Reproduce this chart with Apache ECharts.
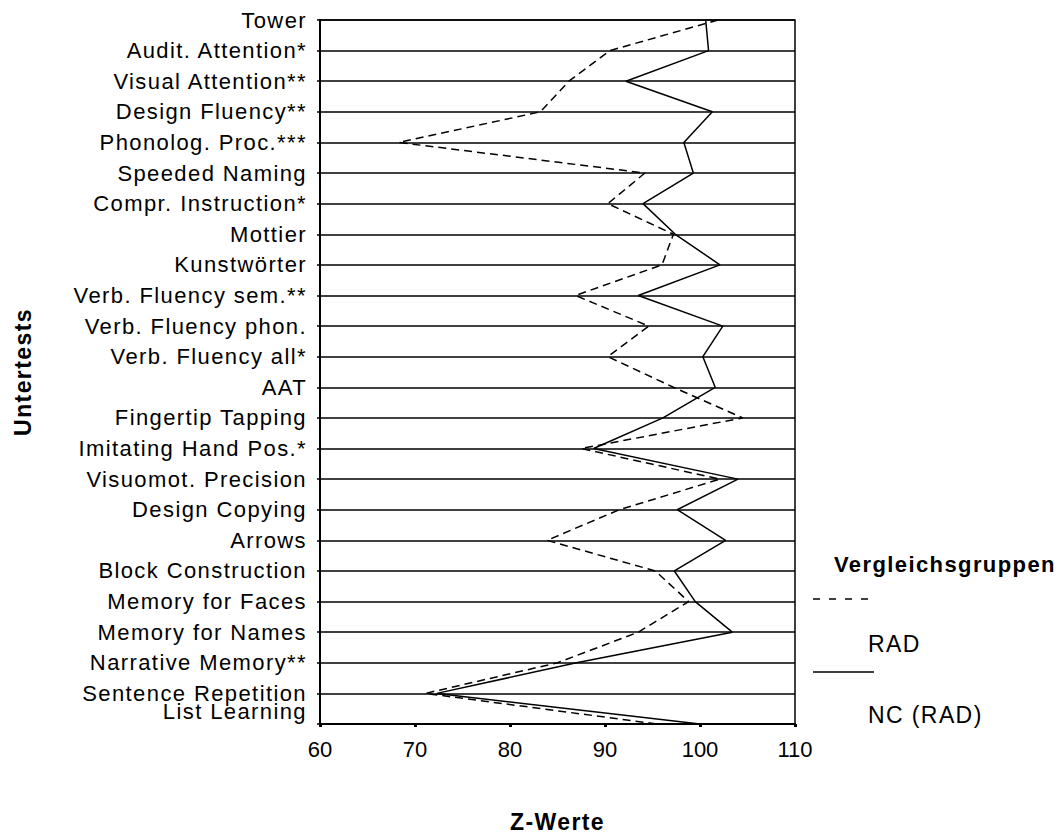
<!DOCTYPE html>
<html>
<head>
<meta charset="utf-8">
<script src="https://cdn.jsdelivr.net/npm/echarts@6/dist/echarts.min.js"></script>
<style>
html,body{margin:0;padding:0;background:#fff;overflow:hidden;}
#chart{width:1061px;height:838px;}
#chart text{letter-spacing:1.4px;}
</style>
</head>
<body>
<div id="chart"></div>
<script>
const categories = [
  'Tower', 'Audit. Attention*', 'Visual Attention**', 'Design Fluency**',
  'Phonolog. Proc.***', 'Speeded Naming', 'Compr. Instruction*', 'Mottier',
  'Kunstwörter', 'Verb. Fluency sem.**', 'Verb. Fluency phon.', 'Verb. Fluency all*',
  'AAT', 'Fingertip Tapping', 'Imitating Hand Pos.*', 'Visuomot. Precision',
  'Design Copying', 'Arrows', 'Block Construction', 'Memory for Faces',
  'Memory for Names', 'Narrative Memory**', 'Sentence Repetition', 'List Learning'
];
const radValues = [101.9, 90.5, 86.2, 83.2, 68.3, 94.2, 90.3, 97.2, 96.0, 86.9, 94.6, 90.3,
  97.2, 104.5, 87.5, 102.1, 91.5, 83.9, 95.3, 98.8, 93.5, 85.0, 71.1, 95.5];
const ncValues = [100.6, 100.9, 92.2, 101.3, 98.3, 99.3, 94.0, 97.4, 102.1, 93.5, 102.4, 100.3,
  101.6, 96.1, 88.8, 104.0, 97.6, 102.7, 97.3, 99.5, 103.4, 87.0, 72.3, 100.0];
const seriesNames = ['RAD', 'NC (RAD)'];
const xTicks = { min: 60, max: 110, interval: 10 };
const xTitle = 'Z-Werte';
const yTitle = 'Untertests';
const legendTitle = 'Vergleichsgruppen';

const FONT = "'Liberation Sans', Arial, sans-serif";
const chart = echarts.init(document.getElementById('chart'), null, { renderer: 'svg' });
const option = {
  backgroundColor: '#fff',
  animation: false,
  grid: { left: 320, top: 20, width: 475, height: 709, show: true, borderColor: '#000', borderWidth: 1.5, backgroundColor: 'transparent' },
  xAxis: {
    type: 'value', min: xTicks.min, max: xTicks.max, interval: xTicks.interval,
    name: xTitle, nameLocation: 'middle', nameGap: 86,
    nameTextStyle: { fontFamily: FONT, fontSize: 23, fontWeight: 'bold', color: '#000' },
    axisLine: { show: true, lineStyle: { color: '#000', width: 2 } },
    axisTick: { show: true, length: 3, lineStyle: { color: '#000', width: 3 } },
    axisLabel: { fontFamily: FONT, fontSize: 22, color: '#000', margin: 14 },
    splitLine: { show: false }
  },
  yAxis: {
    type: 'category', data: categories, inverse: true, boundaryGap: false,
    name: yTitle, nameLocation: 'middle', nameGap: 286, nameRotate: 90,
    nameTextStyle: { fontFamily: FONT, fontSize: 23, fontWeight: 'bold', color: '#000' },
    axisLine: { show: true, lineStyle: { color: '#000', width: 2 } },
    axisTick: { show: true, length: 3, interval: 0, lineStyle: { color: '#000', width: 1.5 } },
    axisLabel: {
      interval: 0, fontFamily: FONT, fontSize: 22, color: '#000', margin: 13,
      formatter: function (v) { return v === 'List Learning' ? '{ll|' + v + '}' : v; },
      rich: { ll: { fontFamily: FONT, fontSize: 22, color: '#000', padding: [0, 0, 26, 0] } }
    },
    splitLine: { show: true, interval: 0, lineStyle: { color: '#000', width: 1.5 } }
  },
  series: [
    {
      name: seriesNames[0], type: 'line', data: radValues, symbol: 'none',
      lineStyle: { color: '#000', width: 1.5, type: [8, 5] }, z: 3
    },
    {
      name: seriesNames[1], type: 'line', data: ncValues, symbol: 'none',
      lineStyle: { color: '#000', width: 1.5, type: 'solid' }, z: 4
    }
  ],
  graphic: [
    { type: 'text', left: 834, top: 553, style: { text: legendTitle, font: "bold 22px 'Liberation Sans', Arial, sans-serif", fill: '#000' } },
    { type: 'line', shape: { x1: 813, y1: 599, x2: 868, y2: 599 }, style: { stroke: '#000', lineWidth: 1.5, lineDash: [7, 9] } },
    { type: 'text', left: 868, top: 632, style: { text: seriesNames[0], font: "23px 'Liberation Sans', Arial, sans-serif", fill: '#000' } },
    { type: 'line', shape: { x1: 813, y1: 672, x2: 874, y2: 672 }, style: { stroke: '#000', lineWidth: 1.5 } },
    { type: 'text', left: 868, top: 703, style: { text: seriesNames[1], font: "23px 'Liberation Sans', Arial, sans-serif", fill: '#000' } }
  ]
};
chart.setOption(option);
// numeric tick labels are not letter-spaced in the reference
document.querySelectorAll('#chart text').forEach(function (t) {
  if (/^\s*\d+\s*$/.test(t.textContent)) t.style.letterSpacing = '0px';
});
</script>
</body>
</html>
